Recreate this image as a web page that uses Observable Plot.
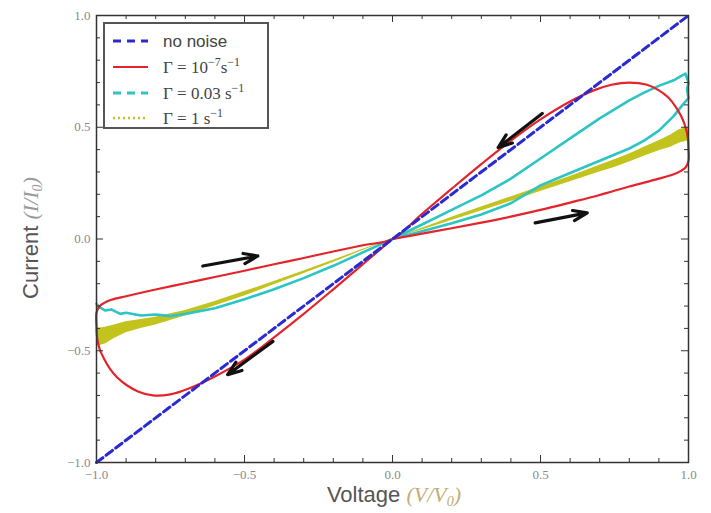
<!DOCTYPE html>
<html><head><meta charset="utf-8">
<script src="https://cdn.jsdelivr.net/npm/d3@7"></script>
<script src="https://cdn.jsdelivr.net/npm/@observablehq/plot@0.6"></script>
<style>
body{margin:0;background:#fff;}
#chart{position:relative;width:711px;height:513px;}
</style></head><body><div id="chart"></div>
<script>
// ---- data ----
const blueV = [-1, 1];
const blueI = [-1, 1];

const redV = [0, 0.1, 0.2, 0.3, 0.4, 0.5, 0.6, 0.7, 0.8, 0.9, 0.95, 0.975, 0.99, 1.0, 1.0, 0.998, 0.99, 0.975, 0.955, 0.93, 0.9, 0.86, 0.8, 0.74, 0.68, 0.6, 0.5, 0.4, 0.3, 0.2, 0.1, 0,
  -0.1, -0.2, -0.3, -0.4, -0.5, -0.6, -0.7, -0.8, -0.9, -0.95, -0.975, -0.99, -1.0, -1.0, -0.998, -0.99, -0.975, -0.955, -0.93, -0.9, -0.86, -0.81, -0.75, -0.69, -0.6, -0.5, -0.4, -0.3, -0.2, -0.1, 0];
const redI = [0, 0.024, 0.048, 0.073, 0.10, 0.13, 0.163, 0.197, 0.235, 0.27, 0.29, 0.305, 0.32, 0.35, 0.40, 0.45, 0.50, 0.55, 0.595, 0.635, 0.665, 0.69, 0.70, 0.69, 0.665, 0.615, 0.535, 0.44, 0.335, 0.225, 0.113, 0,
  -0.028, -0.056, -0.085, -0.113, -0.142, -0.17, -0.198, -0.226, -0.256, -0.272, -0.287, -0.302, -0.33, -0.39, -0.44, -0.49, -0.535, -0.58, -0.62, -0.652, -0.682, -0.70, -0.695, -0.67, -0.615, -0.54, -0.44, -0.335, -0.225, -0.113, 0];

const cyanV = [-1, -0.99, -0.97, -0.95, -0.92, -0.9, -0.85, -0.8, -0.75, -0.7, -0.6, -0.5, -0.4, -0.3, -0.2, -0.1, 0,
  0.1, 0.2, 0.3, 0.4, 0.5, 0.6, 0.7, 0.8, 0.85, 0.9, 0.95, 0.98, 1.0, 0.995, 1.0, 0.99, 0.97, 0.95, 0.9, 0.85, 0.8, 0.7, 0.6, 0.5, 0.4, 0.3, 0.2, 0.1, 0];
const cyanI = [-0.29, -0.305, -0.32, -0.315, -0.335, -0.33, -0.342, -0.338, -0.345, -0.335, -0.31, -0.27, -0.225, -0.175, -0.12, -0.06, 0,
  0.035, 0.07, 0.11, 0.16, 0.24, 0.295, 0.35, 0.405, 0.44, 0.485, 0.55, 0.60, 0.63, 0.67, 0.70, 0.74, 0.725, 0.71, 0.685, 0.655, 0.62, 0.54, 0.45, 0.36, 0.27, 0.195, 0.13, 0.065, 0];

const yellowV  = [-1, -0.97, -0.94, -0.9, -0.85, -0.8, -0.75, -0.7, -0.6, -0.5, -0.4, -0.3, -0.2, -0.1, 0, 0.1, 0.2, 0.3, 0.4, 0.5, 0.6, 0.7, 0.75, 0.8, 0.85, 0.9, 0.94, 0.97, 1];
const yellowLo = [-0.48, -0.47, -0.445, -0.42, -0.40, -0.385, -0.365, -0.345, -0.30, -0.255, -0.205, -0.155, -0.105, -0.052, 0, 0.04, 0.083, 0.125, 0.168, 0.212, 0.256, 0.30, 0.32, 0.345, 0.37, 0.395, 0.41, 0.43, 0.44];
const yellowHi = [-0.40, -0.395, -0.385, -0.37, -0.36, -0.35, -0.335, -0.32, -0.28, -0.235, -0.19, -0.143, -0.095, -0.046, 0, 0.048, 0.097, 0.143, 0.188, 0.235, 0.28, 0.33, 0.355, 0.38, 0.41, 0.44, 0.465, 0.49, 0.50];

const arrowX1 = [0.506, 0.482, -0.641, -0.404];
const arrowY1 = [0.562, 0.072, -0.121, -0.458];
const arrowX2 = [0.357, 0.658, -0.455, -0.557];
const arrowY2 = [0.409, 0.117, -0.076, -0.607];

const majorTicks = [-1, -0.5, 0, 0.5, 1];
const minorTicks = [-0.9, -0.8, -0.7, -0.6, -0.4, -0.3, -0.2, -0.1, 0.1, 0.2, 0.3, 0.4, 0.6, 0.7, 0.8, 0.9];

const legendLabels = ["no noise", "Γ = 10", "Γ = 0.03", "Γ = 1"];

// ---- layout ----
const W = 711, H = 513, ML = 96, MR = 23, MT = 15, MB = 51;
const fw = W - ML - MR, fh = H - MT - MB;
const fmt = d3.format(".1f");
const rows = (xs, ys) => xs.map((x, i) => ({x, y: ys[i]}));
const yellowRows = yellowV.map((x, i) => ({x, lo: yellowLo[i], hi: yellowHi[i]}));
const arrowRows = arrowX1.map((x, i) => ({x1: x, y1: arrowY1[i], x2: arrowX2[i], y2: arrowY2[i]}));
const tickColor = "#333";

const plot = Plot.plot({
  width: W, height: H, marginLeft: ML, marginRight: MR, marginTop: MT, marginBottom: MB,
  style: {background: "#fff", fontFamily: "'Liberation Serif', serif", fontSize: "13px"},
  x: {domain: [-1, 1]},
  y: {domain: [-1, 1]},
  marks: [
    Plot.areaY(yellowRows, {x: "x", y1: "lo", y2: "hi", fill: "#c3c31e"}),
    Plot.line(rows(cyanV, cyanI), {x: "x", y: "y", stroke: "#2cc4c4", strokeWidth: 2.6}),
    Plot.line(rows(redV, redI), {x: "x", y: "y", stroke: "#e4232a", strokeWidth: 2.2, curve: "catmull-rom"}),
    Plot.line(rows(blueV, blueI), {x: "x", y: "y", stroke: "#2a2ad2", strokeWidth: 3, strokeDasharray: "8,4"}),
    Plot.arrow(arrowRows, {x1: "x1", y1: "y1", x2: "x2", y2: "y2", stroke: "#111", strokeWidth: 3.2, headLength: 7, headAngle: 40}),
    Plot.frame({stroke: tickColor, strokeWidth: 1.5}),
    Plot.tickX(majorTicks, {x: d => d, insetTop: fh - 7, stroke: tickColor}),
    Plot.tickX(minorTicks, {x: d => d, insetTop: fh - 4, stroke: tickColor}),
    Plot.tickX(majorTicks, {x: d => d, insetBottom: fh - 7, stroke: tickColor}),
    Plot.tickX(minorTicks, {x: d => d, insetBottom: fh - 4, stroke: tickColor}),
    Plot.tickY(majorTicks, {y: d => d, insetRight: fw - 7, stroke: tickColor}),
    Plot.tickY(minorTicks, {y: d => d, insetRight: fw - 4, stroke: tickColor}),
    Plot.tickY(majorTicks, {y: d => d, insetLeft: fw - 7, stroke: tickColor}),
    Plot.tickY(minorTicks, {y: d => d, insetLeft: fw - 4, stroke: tickColor}),
    Plot.axisX({ticks: majorTicks, tickSize: 0, tickPadding: 7, tickFormat: fmt, label: null, color: "#8a8a8a"}),
    Plot.axisY({ticks: majorTicks, tickSize: 0, tickPadding: 6, tickFormat: fmt, label: null, color: "#8a8a8a"})
  ]
});
document.getElementById("chart").appendChild(plot);

// ---- axis labels ----
const svg = d3.select(plot);
const xl = svg.append("text").attr("x", 394).attr("y", 502).attr("text-anchor", "middle")
  .attr("font-family", "'Liberation Sans', Arial, sans-serif").attr("font-size", 22).attr("fill", "#555");
xl.append("tspan").text("Voltage ");
const xv = xl.append("tspan").attr("fill", "#c2ad74").attr("font-family", "'Liberation Serif', serif").attr("font-style", "italic");
xv.append("tspan").text("(V/V");
xv.append("tspan").attr("font-size", 14).attr("dy", 4).text("0");
xv.append("tspan").attr("dy", -4).text(")");

const yl = svg.append("text").attr("transform", "translate(38,238) rotate(-90)").attr("text-anchor", "middle")
  .attr("font-family", "'Liberation Sans', Arial, sans-serif").attr("font-size", 22).attr("fill", "#555");
yl.append("tspan").text("Current ");
const yv = yl.append("tspan").attr("fill", "#9a9a9a").attr("font-family", "'Liberation Serif', serif").attr("font-style", "italic");
yv.append("tspan").text("(I/I");
yv.append("tspan").attr("font-size", 14).attr("dy", 4).text("0");
yv.append("tspan").attr("dy", -4).text(")");

// ---- legend ----
const lg = svg.append("g").attr("text-anchor", "start");
lg.append("rect").attr("x", 104).attr("y", 23).attr("width", 164).attr("height", 105)
  .attr("fill", "#fff").attr("stroke", "#555").attr("stroke-width", 2);
const rowsY = [41, 67, 93, 118];
const samples = [
  {stroke: "#2a2ad2", dash: "8,6", w: 3},
  {stroke: "#e4232a", dash: null, w: 2.2},
  {stroke: "#2cc4c4", dash: "8,6", w: 3},
  {stroke: "#c3c31e", dash: "2,3", w: 2.5}
];
samples.forEach((s, i) => {
  lg.append("line").attr("x1", 113).attr("x2", 148).attr("y1", rowsY[i]).attr("y2", rowsY[i])
    .attr("stroke", s.stroke).attr("stroke-width", s.w).attr("stroke-dasharray", s.dash);
});
lg.append("text").attr("x", 163).attr("y", rowsY[0] + 6).attr("text-anchor", "start").attr("font-family", "'Liberation Sans', Arial, sans-serif")
  .attr("font-size", 17).attr("fill", "#444").text(legendLabels[0]);
const sups = [null, ["−7", "−1"], [null, "−1"], [null, "−1"]];
for (let i = 1; i < 4; i++) {
  const t = lg.append("text").attr("x", 163).attr("y", rowsY[i] + 6).attr("text-anchor", "start").attr("font-family", "'Liberation Serif', serif")
    .attr("font-size", 17).attr("fill", "#444");
  t.append("tspan").text(legendLabels[i]);
  if (sups[i][0]) t.append("tspan").attr("font-size", 12).attr("dy", -7).text(sups[i][0]);
  t.append("tspan").attr("dy", sups[i][0] ? 7 : 0).text(sups[i][0] ? "s" : " s");
  t.append("tspan").attr("font-size", 12).attr("dy", -7).text(sups[i][1]);
}
</script></body></html>
